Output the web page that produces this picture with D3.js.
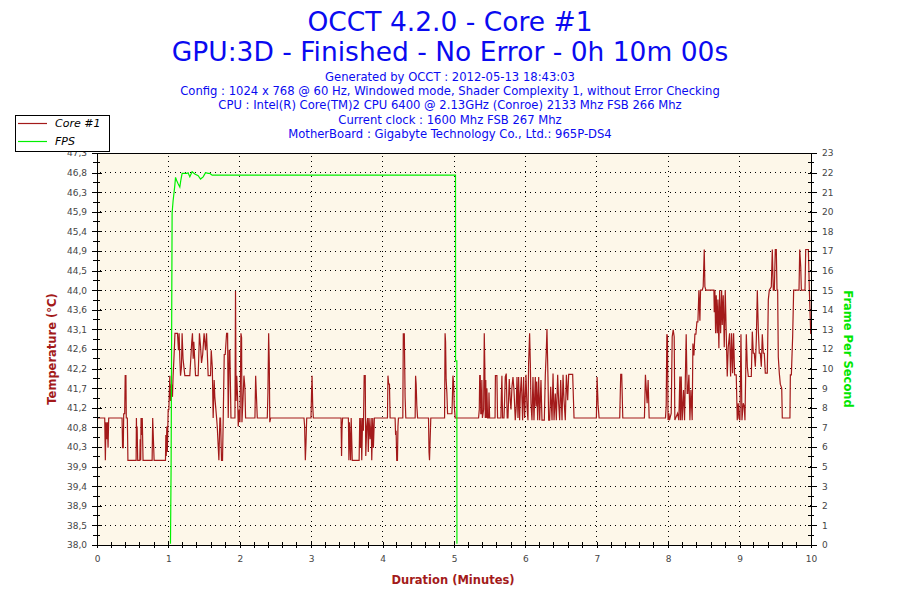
<!DOCTYPE html>
<html><head><meta charset="utf-8">
<script src="https://cdn.jsdelivr.net/npm/d3@7"></script>
<style>body{margin:0;background:#fff}svg{display:block}</style>
</head><body>
<svg id="chart" width="900" height="600"></svg>
<script>
// ---------- data ----------
const titleLines = ["OCCT 4.2.0 - Core #1", "GPU:3D - Finished - No Error - 0h 10m 00s"];
const infoLines = [
  "Generated by OCCT : 2012-05-13 18:43:03",
  "Config : 1024 x 768 @ 60 Hz, Windowed mode, Shader Complexity 1, without Error Checking",
  "CPU : Intel(R) Core(TM)2 CPU 6400 @ 2.13GHz (Conroe) 2133 Mhz FSB 266 Mhz",
  "Current clock : 1600 Mhz FSB 267 Mhz",
  "MotherBoard : Gigabyte Technology Co., Ltd.: 965P-DS4"
];
const seriesNames = ["Core #1", "FPS"];
const axisTitles = ["Temperature (°C)", "Duration (Minutes)", "Frame Per Second"];
const xTickLabels = ["0","1","2","3","4","5","6","7","8","9","10"];
const tempTickLabels = ["38,0","38,5","38,9","39,4","39,9","40,3","40,8","41,2","41,7","42,2","42,6",
  "43,1","43,6","44,0","44,5","44,9","45,4","45,9","46,3","46,8","47,3"];
const fpsTickLabels = ["0","1","2","3","5","6","7","8","9","10","12","13","14","15","16","17","18","20","21","22","23"];
const tempDomain = [38, 47.26];
const fpsDomain = [0, 23];
const minuteDomain = [0, 10];

// Core #1 temperature: [minute, °C]
const coreTemp = [
[0,41],[0.108,41],[0.117,40],[0.126,40.9],[0.136,40.5],[0.145,40.9],[0.155,40.3],[0.164,41],[0.351,41],[0.358,40.3],[0.368,40.3],[0.374,41.1],[0.388,41.1],[0.395,42],[0.405,42],[0.41,41],[0.425,41],[0.433,40],[0.548,40],[0.552,41],[0.557,40.5],[0.562,40.8],[0.57,40],[0.6,40],[0.605,40.5],[0.612,40],[0.617,41],[0.628,40.6],[0.634,41],[0.645,40],[0.772,40],[0.78,41],[0.79,40.5],[0.8,40],[0.959,40],[0.964,40.6],[0.97,40.1],[0.978,40.8],[0.985,40.2],[0.992,40.8],[0.997,41.2],[1.006,41.2],[1.02,42],[1.029,41.4],[1.043,41.8],[1.057,41.5],[1.066,42],[1.08,42.5],[1.092,43],[1.127,43],
[1.141,42.6],[1.15,43],[1.16,42.4],[1.17,42],[1.183,42.2],[1.192,43],[1.205,42.4],[1.23,42],[1.3,42],[1.327,42.8],[1.337,43],[1.347,42.4],[1.356,42.8],[1.38,42],[1.417,42],[1.435,43],[1.45,42.7],[1.464,42.3],[1.48,42.5],[1.5,43],[1.52,42.6],[1.534,43],[1.557,42],[1.59,42],[1.6,42.6],[1.615,42.2],[1.627,41],[1.641,41.9],[1.65,41.5],[1.675,41],[1.684,40.8],[1.707,40],[1.721,41],[1.73,41],[1.744,40],[1.758,40],[1.768,41],[1.782,42.5],[1.796,42.5],[1.815,43],[1.829,43],[1.838,41],[1.852,42.6],[1.861,42.6],[1.876,41],[1.932,41],
[1.94,44],[1.948,41.4],[1.957,42],[1.969,41.5],[1.978,40.8],[1.992,41.2],[2.002,40.9],[2.016,43],[2.025,42.9],[2.03,40.9],[2.044,41.4],[2.058,42],[2.072,41.7],[2.081,41],[2.212,41],[2.222,42],[2.231,41.6],[2.245,41],[2.385,41],[2.394,41.6],[2.404,43],[2.413,42.3],[2.42,40.9],[2.432,41],[2.899,41],[2.908,40.8],[2.918,40],[2.927,40.4],[2.937,41],[2.997,41],[3.005,41.6],[3.012,42],[3.021,41.3],[3.03,41],[3.418,41],[3.425,40.1],[3.432,40.8],[3.44,41],[3.521,41],[3.528,40],[3.535,40.9],[3.545,40.4],[3.552,40],[3.56,41],[3.575,40],[3.671,40],[3.68,41],[3.69,40.3],[3.699,41],[3.708,40],[3.72,41],[3.731,40.7],[3.742,42],[3.757,42],[3.764,40.1],[3.778,40.8],[3.79,41],[3.8,40.2],[3.81,41],[3.825,40.5],[3.84,41],[3.848,40],[3.862,41],[3.871,40.3],[3.885,41],
[4.068,41],[4.075,42],[4.085,41.8],[4.096,41.8],[4.105,41],[4.175,41],[4.182,40.6],[4.189,40.7],[4.198,40],[4.208,40],[4.215,40.8],[4.222,41],[4.283,41],[4.29,43],[4.297,42.8],[4.304,43],[4.315,41.5],[4.325,41],[4.456,41],[4.462,42],[4.47,41.8],[4.479,41.3],[4.49,41],[4.643,41],[4.65,40.2],[4.657,40],[4.666,40.5],[4.675,41],[4.868,41],[4.875,43],[4.882,42.8],[4.89,41.9],[4.9,41.6],[4.91,41.1],[4.971,41.1],[4.978,41.5],[4.985,42],[4.995,41.8],[5.003,41.3],[5.017,41],[5.344,41],[5.354,41.2],[5.36,42],[5.368,42],[5.375,41.1],[5.382,41.1],[5.39,41.9],[5.398,41],[5.415,41.2],[5.424,43],[5.432,42.2],[5.438,41],[5.445,41.9],[5.452,41],[5.461,41.7],[5.47,41],[5.485,41],[5.49,41.6],[5.499,41],[5.575,41],
[5.58,42],[5.601,42],[5.61,41],[5.657,41],[5.662,41.46],[5.671,42],[5.68,41],[5.7,41],[5.709,41.42],[5.718,41.97],[5.732,42.05],[5.745,41],[5.756,41],[5.774,41.92],[5.788,41.42],[5.798,41.2],[5.812,41.74],[5.826,41.97],[5.84,41.66],[5.858,40.95],[5.872,41.27],[5.882,41.97],[5.896,41],[5.905,41.97],[5.919,40.95],[5.929,41.58],[5.943,41.97],[5.961,40.95],[5.975,41.97],[5.989,41],[6.008,42.02],[6.022,41.27],[6.036,40.95],[6.045,42.29],[6.059,43],[6.069,42.29],[6.078,41.35],[6.092,40.95],[6.106,41.97],[6.12,40.95],[6.139,41.97],[6.148,41.27],[6.158,41.86],[6.172,40.95],[6.186,41.97],[6.2,40.95],[6.218,41.9],[6.232,40.95],[6.265,40.95],[6.279,42.02],[6.293,42.6],[6.302,43.1],[6.316,41.97],[6.326,40.95],[6.34,40.95],[6.354,41.74],[6.373,40.95],[6.387,42.05],[6.401,40.95],[6.419,41.58],[6.433,40.95],[6.452,42.02],[6.466,41.35],[6.48,40.95],[6.494,41.9],[6.513,40.95],[6.527,42.02],[6.541,41.42],[6.559,40.95],[6.574,42.02],[6.592,41.42],[6.606,42.03],[6.662,42.03],[6.681,41],[6.994,41],[7.004,41.97],[7.018,41.31],[7.032,41],[7.321,41],[7.335,42.03],[7.349,42.03],[7.364,41],[7.667,41],[7.681,42.02],[7.695,41.62],[7.705,41.35],[7.719,41.9],[7.733,41],[7.822,41],
[7.962,41],[7.972,41.3],[7.981,42.98],[7.99,42.92],[7.998,40.95],[8.009,41.11],[8.018,40.95],[8.042,41.11],[8.056,42.92],[8.07,43.08],[8.084,42.92],[8.093,40.95],[8.131,41.11],[8.149,40.95],[8.163,41.98],[8.173,40.95],[8.182,41.98],[8.196,40.95],[8.215,41.66],[8.229,40.95],[8.252,42.98],[8.266,41.58],[8.275,41.58],[8.29,42.02],[8.304,40.95],[8.318,41.66],[8.336,40.95],[8.346,42.76],[8.36,42.48],[8.374,42.98],[8.388,42.98],[8.402,43.27],[8.416,43.27],[8.43,44.02],[8.444,43.3],[8.453,44.02],[8.477,44.02],[8.49,44.1],[8.505,44.98],[8.514,44.1],[8.528,44.02],[8.64,44.02],[8.645,43.5],[8.654,44.02],[8.664,43.0],[8.673,43.9],[8.687,43.0],[8.696,43.8],[8.71,42.65],[8.72,44.02],[8.734,43.0],[8.748,44.02],[8.757,43.2],[8.771,43.9],[8.785,42.67],[8.799,44.02],[8.813,43.0],[8.827,41.98],[8.841,42.67],[8.86,43.0],[8.874,41.98],[8.888,43.0],[8.902,42.06],[8.916,43.0],[8.93,42.02],[8.953,42.02],[8.967,40.95],[8.981,41.35],[8.991,41.0],[9.005,40.95],[9.019,42.98],[9.033,40.95],[9.051,41.35],[9.065,41.27],[9.075,40.95],[9.094,42.98],[9.108,42.21],[9.122,41.98],[9.164,41.98],[9.178,43.04],[9.192,42.53],[9.206,42.53],[9.22,42.21],[9.234,42.84],[9.248,44.02],[9.262,43.08],[9.276,42.53],[9.29,42.53],[9.304,42.21],[9.318,42.98],[9.332,42.53],[9.346,42.53],[9.36,42.06],[9.388,42.06],[9.402,43.79],[9.416,44.02],[9.444,44.1],[9.458,44.98],[9.472,44.02],[9.486,44.02],[9.5,44.98],[9.514,44.98],[9.524,44.02],[9.533,44.02],[9.542,42.44],[9.556,42.06],[9.57,41.8],[9.59,41.7],[9.598,41],[9.705,41],[9.711,42.02],[9.725,42.02],[9.743,42.92],[9.757,44.02],[9.832,44.02],[9.842,44.98],[9.856,44.57],[9.865,44.02],[9.916,44.02],[9.926,44.98],[9.963,44.98],[9.977,44.02],[9.996,43.0],[10,43]
];

// FPS: [minute, frames per second]
const fpsData = [
[0,0],[1.029,0],[1.038,4.65],[1.052,19.5],[1.066,20.2],[1.09,21.1],[1.1,21.57],[1.114,21.4],[1.136,21.2],[1.16,21.0],[1.174,21.4],[1.192,21.8],[1.254,21.8],[1.276,21.84],[1.3,21.6],[1.332,21.9],[1.37,21.77],[1.417,21.67],[1.45,21.47],[1.487,21.6],[1.52,21.84],[1.557,21.8],[1.581,21.8],[1.613,21.7],[5.021,21.7],[5.022,10.8],[5.04,10.8],[5.041,0],[10,0]
];

// ---------- layout & style ----------
const L = 97, R = 811, T = 153, B = 545;
const FONT = "'DejaVu Sans', Verdana, sans-serif";
const BLUE = "#0a0af0", RED = "#a31a1a", GREEN = "#00f000", GREENTXT = "#00e600", TICKTXT = "#454545";

const svg = d3.select("#chart");
svg.append("rect").attr("width",900).attr("height",600).attr("fill","#fff");

const x = d3.scaleLinear().domain(minuteDomain).range([L, R]);
const yT = d3.scaleLinear().domain(tempDomain).range([B, T]);
const yF = d3.scaleLinear().domain(fpsDomain).range([B, T]);

const tempTicks = tempTickLabels.map((_, i) => tempDomain[0] + i * (tempDomain[1] - tempDomain[0]) / 20);
const fpsTicks = fpsTickLabels.map((_, i) => fpsDomain[0] + i * (fpsDomain[1] - fpsDomain[0]) / 20);
const xTicks = xTickLabels.map((_, i) => i);

// titles
svg.selectAll("text.title").data(titleLines).enter().append("text")
  .attr("x", 450).attr("y", (d, i) => 31 + i * 30)
  .attr("text-anchor", "middle").attr("font-family", FONT).attr("font-size", 26.5)
  .attr("fill", BLUE).text(d => d);
svg.selectAll("text.info").data(infoLines).enter().append("text")
  .attr("x", 450).attr("y", (d, i) => 81 + i * 14.2)
  .attr("text-anchor", "middle").attr("font-family", FONT).attr("font-size", 11.6)
  .attr("fill", BLUE).text(d => d);

// plot background
svg.append("rect").attr("x", L).attr("y", T).attr("width", R - L).attr("height", B - T).attr("fill", "#fdf7e9");

// grid
const grid = svg.append("g").attr("stroke", "#000").attr("stroke-width", 1)
  .attr("stroke-dasharray", "1,4").attr("shape-rendering", "crispEdges");
grid.selectAll("line.h").data(tempTicks.slice(1, 20)).enter().append("line")
  .attr("x1", L + 3).attr("x2", R).attr("y1", d => yT(d)).attr("y2", d => yT(d));
grid.selectAll("line.v").data(xTicks.slice(1, 10)).enter().append("line")
  .attr("y1", T + 3).attr("y2", B).attr("x1", d => x(d)).attr("x2", d => x(d));

// clip (keeps the zero-FPS stretches hidden under the bottom axis)
svg.append("clipPath").attr("id", "plotclip").append("rect")
  .attr("x", L).attr("y", T - 2).attr("width", R - L).attr("height", B - T + 0.8);

const lineT = d3.line().x(d => x(d[0])).y(d => yT(d[1]));
const lineF = d3.line().x(d => x(d[0])).y(d => yF(d[1]));

svg.append("path").datum(coreTemp).attr("d", lineT).attr("fill", "none")
  .attr("stroke", RED).attr("stroke-width", 1.2).attr("clip-path", "url(#plotclip)");
svg.append("path").datum(fpsData).attr("d", lineF).attr("fill", "none")
  .attr("stroke", GREEN).attr("stroke-width", 1.2).attr("clip-path", "url(#plotclip)");

// axes
function styleAxis(g) {
  g.selectAll("path.domain").attr("stroke", "#000").attr("stroke-width", 1.3).attr("shape-rendering", "crispEdges");
  g.selectAll(".tick line").attr("stroke", "#000").attr("shape-rendering", "crispEdges");
  g.selectAll(".tick text").attr("fill", TICKTXT).attr("font-family", FONT).attr("font-size", 9);
}
// top border
svg.append("line").attr("x1", L).attr("x2", R).attr("y1", T).attr("y2", T)
  .attr("stroke", "#000").attr("shape-rendering", "crispEdges");

const gL = svg.append("g").attr("transform", `translate(${L},0)`)
  .call(d3.axisLeft(yT).tickValues(tempTicks).tickFormat((d, i) => tempTickLabels[i])
    .tickSize(5).tickPadding(5).tickSizeOuter(0));
gL.selectAll(".tick").append("line").attr("x1", 0).attr("x2", 5);
gL.selectAll("line.minor").data(tempTicks.slice(0, 20).map((d, i) => (d + tempTicks[i + 1]) / 2))
  .enter().append("line").attr("class", "minor")
  .attr("x1", -4).attr("x2", 3).attr("y1", d => yT(d)).attr("y2", d => yT(d));
gL.selectAll("line.minor").attr("stroke", "#000").attr("shape-rendering", "crispEdges");
styleAxis(gL);

const gR = svg.append("g").attr("transform", `translate(${R},0)`)
  .call(d3.axisRight(yF).tickValues(fpsTicks).tickFormat((d, i) => fpsTickLabels[i])
    .tickSize(6).tickPadding(5).tickSizeOuter(0));
gR.selectAll(".tick").append("line").attr("x1", 0).attr("x2", -3);
gR.selectAll("line.minor").data(fpsTicks.slice(0, 20).map((d, i) => (d + fpsTicks[i + 1]) / 2))
  .enter().append("line").attr("class", "minor")
  .attr("x1", -3).attr("x2", 3).attr("y1", d => yF(d)).attr("y2", d => yF(d));
gR.selectAll("line.minor").attr("stroke", "#000").attr("shape-rendering", "crispEdges");
styleAxis(gR);

const gB = svg.append("g").attr("transform", `translate(0,${B})`)
  .call(d3.axisBottom(x).tickValues(xTicks).tickFormat((d, i) => xTickLabels[i])
    .tickSize(3).tickPadding(8).tickSizeOuter(0));
gB.selectAll(".tick").append("line").attr("y1", 0).attr("y2", -3);
gB.selectAll("line.minor").data(d3.range(0, 50).filter(k => k % 5 !== 0).map(k => k / 5))
  .enter().append("line").attr("class", "minor")
  .attr("y1", -3).attr("y2", 3).attr("x1", d => x(d)).attr("x2", d => x(d));
gB.selectAll("line.minor").attr("stroke", "#000").attr("shape-rendering", "crispEdges");
styleAxis(gB);

// axis titles
svg.append("text").attr("transform", `translate(52,${(T + B) / 2}) rotate(-90)`)
  .attr("text-anchor", "middle").attr("dy", "0.35em").attr("font-family", FONT)
  .attr("font-weight", "bold").attr("font-size", 11.5).attr("fill", RED).text(axisTitles[0]);
svg.append("text").attr("x", 453).attr("y", 584)
  .attr("text-anchor", "middle").attr("font-family", FONT)
  .attr("font-weight", "bold").attr("font-size", 11.5).attr("fill", RED).text(axisTitles[1]);
svg.append("text").attr("transform", `translate(848,${(T + B) / 2}) rotate(90)`)
  .attr("text-anchor", "middle").attr("dy", "0.35em").attr("font-family", FONT)
  .attr("font-weight", "bold").attr("font-size", 11.5).attr("fill", GREENTXT).text(axisTitles[2]);

// legend
const leg = svg.append("g");
leg.append("rect").attr("x", 15.5).attr("y", 115.5).attr("width", 94).attr("height", 36)
  .attr("fill", "#fff").attr("stroke", "#000");
const legColors = [RED, GREEN];
seriesNames.forEach((name, i) => {
  const yy = 123.5 + i * 18;
  leg.append("line").attr("x1", 18).attr("x2", 47).attr("y1", yy).attr("y2", yy)
    .attr("stroke", legColors[i]).attr("stroke-width", 1.2);
  leg.append("text").attr("x", 55).attr("y", yy + 3.8).attr("font-family", FONT)
    .attr("font-style", "italic").attr("font-size", 11).attr("fill", "#000").text(name);
});
</script>
</body></html>
